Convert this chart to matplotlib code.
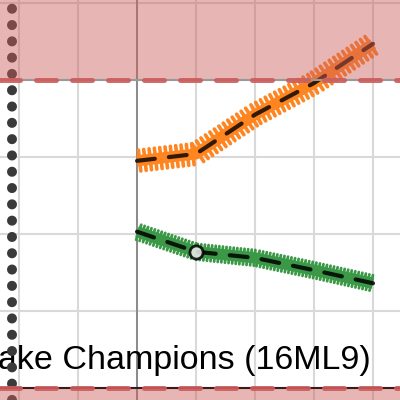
import matplotlib
matplotlib.use("Agg")
import matplotlib.pyplot as plt
import matplotlib.patheffects as pe

# data
steps = [0, 1, 2, 3, 4]
orange_vals = [2.95, 3.04, 3.55, 3.96, 4.47]
green_vals = [2.03, 1.77, 1.69, 1.53, 1.36]
upper_limit = 4.0
lower_limit = 0.0
marker_at = [1]
ref_x = -2.12
label = "Lake Champions (16ML9)"

fig = plt.figure(figsize=(4, 4), dpi=100)
ax = fig.add_axes([0, 0, 1, 1])

ax.set_xlim(-2.322, 4.458)
ax.set_ylim(-0.156, 5.039)
ax.set_xticks(range(-2, 5))
ax.set_yticks(range(0, 6))
ax.tick_params(length=0, labelbottom=False, labelleft=False)
for s in ax.spines.values():
    s.set_visible(False)
ax.set_axisbelow(True)
ax.grid(True, color="#d9d9d9", lw=1.5)

ax.axvline(0, color="#8a8a8a", lw=1.4, zorder=1.5)

# vertical dotted reference
ax.axvline(ref_x, color="#3a3a3a", lw=7.2, linestyle=(0, (0.01, 1.62)),
           dash_capstyle="round", zorder=2.5)

# orange series, comb-like band
ticks_o = [pe.TickedStroke(spacing=3.8, angle=90, length=2.0, linewidth=2.6, capstyle="round"),
           pe.TickedStroke(spacing=3.8, angle=-90, length=2.0, linewidth=2.6, capstyle="round"),
           pe.Normal()]
ax.plot(steps, orange_vals, color="#ff8520", lw=8, solid_capstyle="butt",
        path_effects=ticks_o, zorder=3)
ax.plot(steps, orange_vals, color="black", alpha=0.8, lw=3,
        linestyle=(0, (4.3, 3.4)), dash_capstyle="round", zorder=3.2)

ticks_g = [pe.TickedStroke(spacing=2.6, angle=90, length=2.2, linewidth=2.0, capstyle="round"),
           pe.TickedStroke(spacing=2.6, angle=-90, length=2.2, linewidth=2.0, capstyle="round"),
           pe.Normal()]
ax.plot(steps, green_vals, color="#3a9846", lw=8, solid_capstyle="butt",
        path_effects=ticks_g, zorder=3)
ax.plot(steps, green_vals, color="black", alpha=0.85, lw=3,
        linestyle=(0, (4.3, 3.4)), dash_capstyle="round",
        marker="o", markevery=marker_at, ms=9.5, mfc="#f0f0f0", mec="black", mew=2,
        zorder=3.2)

# limit bands
ax.axhspan(upper_limit, 6, color="indianred", alpha=0.45, lw=0, zorder=4)
ax.axhspan(-1, lower_limit, color="indianred", alpha=0.45, lw=0, zorder=4)
ax.axhline(upper_limit, color="#999999", lw=1.5, zorder=4.5)
ax.axhline(lower_limit, color="#3a1a1a", lw=1.5, zorder=4.5)
for yv in [upper_limit, lower_limit]:
    ax.axhline(yv, color="#cd5c5c", alpha=0.9, lw=3.6, linestyle=(0, (4, 3.2)),
               dash_capstyle="round", zorder=5)

ax.text(370.5 / 400, 31 / 400, label, transform=ax.transAxes, ha="right", va="baseline",
        fontsize=24.5, family="Liberation Sans", zorder=2)

fig.savefig("out.png", dpi=100)
